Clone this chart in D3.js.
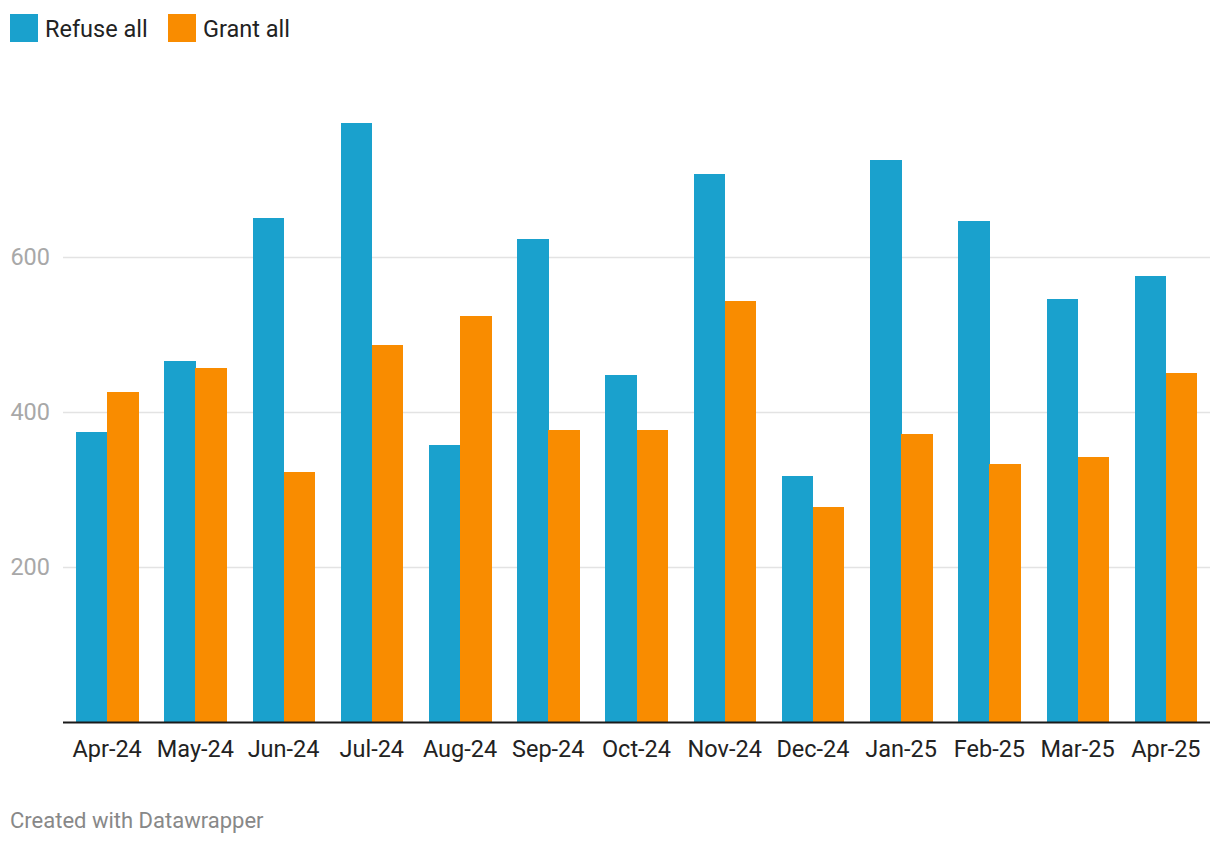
<!DOCTYPE html>
<html><head><meta charset="utf-8">
<script src="https://cdn.jsdelivr.net/npm/d3@7"></script>
<style>body{margin:0;background:#fff;font-family:Roboto,sans-serif;}</style>
</head><body>
<svg id="c" width="1220" height="844"></svg>
<script>
const months = ["Apr-24","May-24","Jun-24","Jul-24","Aug-24","Sep-24","Oct-24","Nov-24","Dec-24","Jan-25","Feb-25","Mar-25","Apr-25"];
const refuseAll = [374,466,650,773,357,623,448,707,317,725,646,546,575];
const grantAll = [426,457,323,486,524,377,377,543,277,372,333,342,450];
const seriesNames = ["Refuse all","Grant all"];
const colors = ["#1aa1cd","#f98c00"];
const yTicks = [200,400,600];

const svg = d3.select("#c");
const x = d3.scaleBand().domain(months).range([63,1210]).paddingInner(0.297).paddingOuter(0.1485);
const y = d3.scaleLinear().domain([0,600]).range([722,256.7]);
const xs = d3.scaleBand().domain(seriesNames).range([0,x.bandwidth()]);

svg.append("g").selectAll("line").data(yTicks).join("line")
  .attr("x1",63).attr("x2",1210).attr("y1",d=>Math.round(y(d))+0.5).attr("y2",d=>Math.round(y(d))+0.5)
  .attr("stroke","#e3e3e3").attr("stroke-width",1.5);
svg.append("g").selectAll("text").data(yTicks).join("text")
  .attr("x",50).attr("y",d=>y(d)+8.5).attr("text-anchor","end")
  .attr("font-size",23.5).attr("fill","#a8a8a8").text(d=>d);

const data = months.map((m,i)=>({m, vals:[refuseAll[i],grantAll[i]]}));
const g = svg.append("g").attr("shape-rendering","crispEdges").selectAll("g").data(data).join("g")
  .attr("transform",d=>`translate(${x(d.m)},0)`);
g.selectAll("rect").data(d=>d.vals.map((v,j)=>({v,s:seriesNames[j],c:colors[j]}))).join("rect")
  .attr("x",d=>xs(d.s)).attr("width",xs.bandwidth()+0.5)
  .attr("y",d=>y(d.v)).attr("height",d=>y(0)-y(d.v)).attr("fill",d=>d.c);

svg.append("line").attr("x1",63).attr("x2",1210).attr("y1",722.5).attr("y2",722.5)
  .attr("stroke","#1a1a1a").attr("stroke-width",2);

svg.append("g").selectAll("text").data(months).join("text")
  .attr("x",d=>x(d)+x.bandwidth()/2).attr("y",757).attr("text-anchor","middle")
  .attr("font-size",23.5).attr("fill","#222").text(d=>d);

const leg = [{n:seriesNames[0],c:colors[0],x:10},{n:seriesNames[1],c:colors[1],x:168}];
const lg = svg.append("g").selectAll("g").data(leg).join("g").attr("transform",d=>`translate(${d.x},14)`);
lg.append("rect").attr("width",28).attr("height",28).attr("fill",d=>d.c);
lg.append("text").attr("x",35).attr("y",22.5).attr("font-size",23.5).attr("fill","#222").text(d=>d.n);

svg.append("text").attr("x",10).attr("y",828).attr("font-size",22).attr("fill","#888").text("Created with Datawrapper");
</script>
</body></html>
